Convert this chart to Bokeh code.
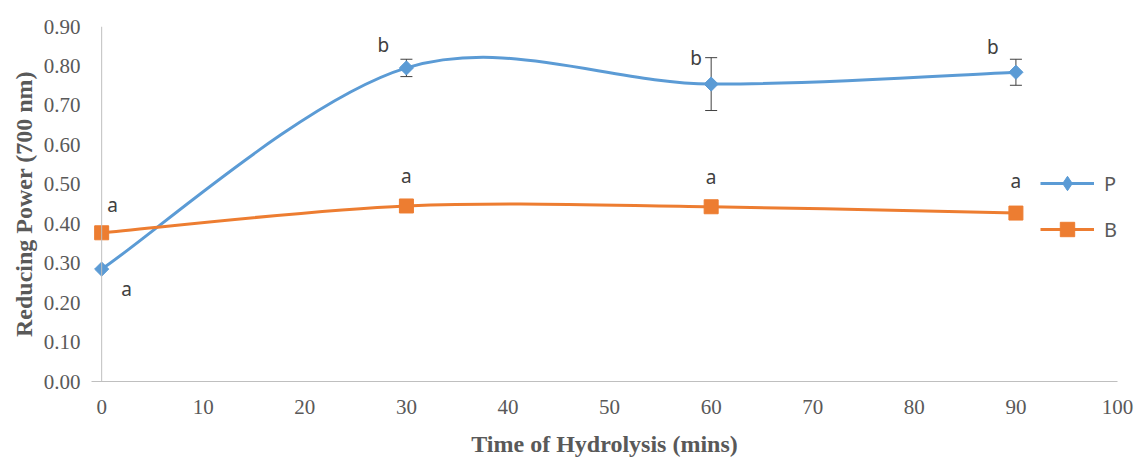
from bokeh.plotting import figure
from bokeh.models import (ColumnDataSource, Whisker, TeeHead, Legend, LegendItem,
                          FixedTicker, NumeralTickFormatter, Span, Range1d)
from bokeh.core.properties import value
from bokeh.embed import file_html
from bokeh.resources import INLINE

# ---- data ----
times = [0, 30, 60, 90]
p_vals = [0.285, 0.795, 0.754, 0.784]
p_err = [0.0, 0.022, 0.067, 0.033]
b_vals = [0.377, 0.445, 0.443, 0.427]
p_letters = ["a", "b", "b", "b"]
b_letters = ["a", "a", "a", "a"]
x_ticks = [0, 10, 20, 30, 40, 50, 60, 70, 80, 90, 100]
y_ticks = [0.0, 0.1, 0.2, 0.3, 0.4, 0.5, 0.6, 0.7, 0.8, 0.9]
series_names = ["P", "B"]

# ---- styling ----
BLUE = "#5B9BD5"
ORANGE = "#ED7D31"
GREY = "#595959"
p_label_offsets = [(25, 20), (-23, -23), (-15, -26), (-23, -25)]
b_label_offsets = [(11, -28), (0, -30), (0, -30), (0, -32)]


def smooth_segments(xs, ys):
    """Cubic Bezier control points (Catmull-Rom style, like Excel smoothed lines)."""
    n = len(xs)
    d = dict(x0=[], y0=[], x1=[], y1=[], cx0=[], cy0=[], cx1=[], cy1=[])
    for i in range(n - 1):
        pi, pn = i - 1 if i > 0 else i, i + 2 if i + 2 < n else i + 1
        d["x0"].append(xs[i]); d["y0"].append(ys[i])
        d["x1"].append(xs[i + 1]); d["y1"].append(ys[i + 1])
        d["cx0"].append(xs[i] + (xs[i + 1] - xs[pi]) / 6)
        d["cy0"].append(ys[i] + (ys[i + 1] - ys[pi]) / 6)
        d["cx1"].append(xs[i + 1] - (xs[pn] - xs[i]) / 6)
        d["cy1"].append(ys[i + 1] - (ys[pn] - ys[i]) / 6)
    return ColumnDataSource(d)


p = figure(width=1137, height=459, output_backend="svg", toolbar_location=None,
           x_range=Range1d(-1, 100), y_range=Range1d(0, 0.9),
           min_border_left=91, min_border_right=20, min_border_top=26, min_border_bottom=75)
p.outline_line_color = None
p.grid.visible = False
p.background_fill_color = "white"

# axes
for ax in (p.xaxis[0], p.yaxis[0]):
    ax.major_tick_out = 0
    ax.major_tick_in = 0
    ax.minor_tick_out = 0
    ax.minor_tick_in = 0
    ax.major_label_text_font = "Liberation Serif"
    ax.major_label_text_font_size = "21px"
    ax.major_label_text_color = GREY
    ax.axis_label_text_font = "Liberation Serif"
    ax.axis_label_text_font_size = "24px"
    ax.axis_label_text_font_style = "bold"
    ax.axis_label_text_color = GREY

p.xaxis.ticker = FixedTicker(ticks=x_ticks)
p.yaxis.ticker = FixedTicker(ticks=y_ticks)
p.yaxis.formatter = NumeralTickFormatter(format="0.00")
p.xaxis.axis_label = "Time of Hydrolysis (mins)"
p.yaxis.axis_label = "Reducing Power (700 nm)"
p.xaxis.axis_line_color = "#BFBFBF"
p.yaxis.axis_line_color = None
p.yaxis.major_label_standoff = 11
p.yaxis.axis_label_standoff = 4
p.xaxis.major_label_standoff = 18
p.xaxis.axis_label_standoff = 14
p.add_layout(Span(location=x_ticks[0], dimension="height", line_color="#BFBFBF", line_width=1))

# error bars
idx = [i for i, e in enumerate(p_err) if e > 0]
err_src = ColumnDataSource(dict(
    x=[times[i] for i in idx],
    upper=[p_vals[i] + p_err[i] for i in idx],
    lower=[p_vals[i] - p_err[i] for i in idx]))
p.add_layout(Whisker(source=err_src, base="x", upper="upper", lower="lower",
                     dimension="height", line_color="#404040", line_width=1,
                     upper_head=TeeHead(size=12, line_color="#404040", line_width=1),
                     lower_head=TeeHead(size=12, line_color="#404040", line_width=1)))

# smoothed lines
p_line = p.bezier(x0="x0", y0="y0", x1="x1", y1="y1", cx0="cx0", cy0="cy0", cx1="cx1", cy1="cy1",
                  source=smooth_segments(times, p_vals), line_color=BLUE, line_width=3)
b_line = p.bezier(x0="x0", y0="y0", x1="x1", y1="y1", cx0="cx0", cy0="cy0", cx1="cx1", cy1="cy1",
                  source=smooth_segments(times, b_vals), line_color=ORANGE, line_width=3)

# markers
p_pts = p.scatter(times, p_vals, marker="square", angle=0.785398, size=10,
                  fill_color=BLUE, line_color=BLUE)
p_key = p.scatter(times, p_vals, marker="diamond", size=17,
                  fill_color=BLUE, line_color=BLUE, visible=False)
b_pts = p.scatter(times, b_vals, marker="square", size=14, fill_color=ORANGE, line_color=ORANGE)

# letters
p_lab = ColumnDataSource(dict(x=times, y=p_vals, t=p_letters,
                              dx=[o[0] for o in p_label_offsets], dy=[o[1] for o in p_label_offsets]))
b_lab = ColumnDataSource(dict(x=times, y=b_vals, t=b_letters,
                              dx=[o[0] for o in b_label_offsets], dy=[o[1] for o in b_label_offsets]))
for src in (p_lab, b_lab):
    p.text(x="x", y="y", text="t", x_offset="dx", y_offset="dy", source=src,
           text_font=value("Noto Sans"), text_font_size="19px", text_color="#404040",
           text_align="center", text_baseline="middle")

legend = Legend(items=[LegendItem(label=series_names[0], renderers=[p_line, p_key]),
                       LegendItem(label=series_names[1], renderers=[b_line, b_pts])],
                location=(949, 134), orientation="vertical",
                glyph_width=54, glyph_height=36, label_height=20, spacing=10,
                padding=0, margin=0, label_standoff=10,
                border_line_color=None, background_fill_alpha=0,
                label_text_font="Noto Sans", label_text_font_size="20px", label_text_color=GREY)
p.add_layout(legend)

open("out.html", "w").write(file_html(p, INLINE))
